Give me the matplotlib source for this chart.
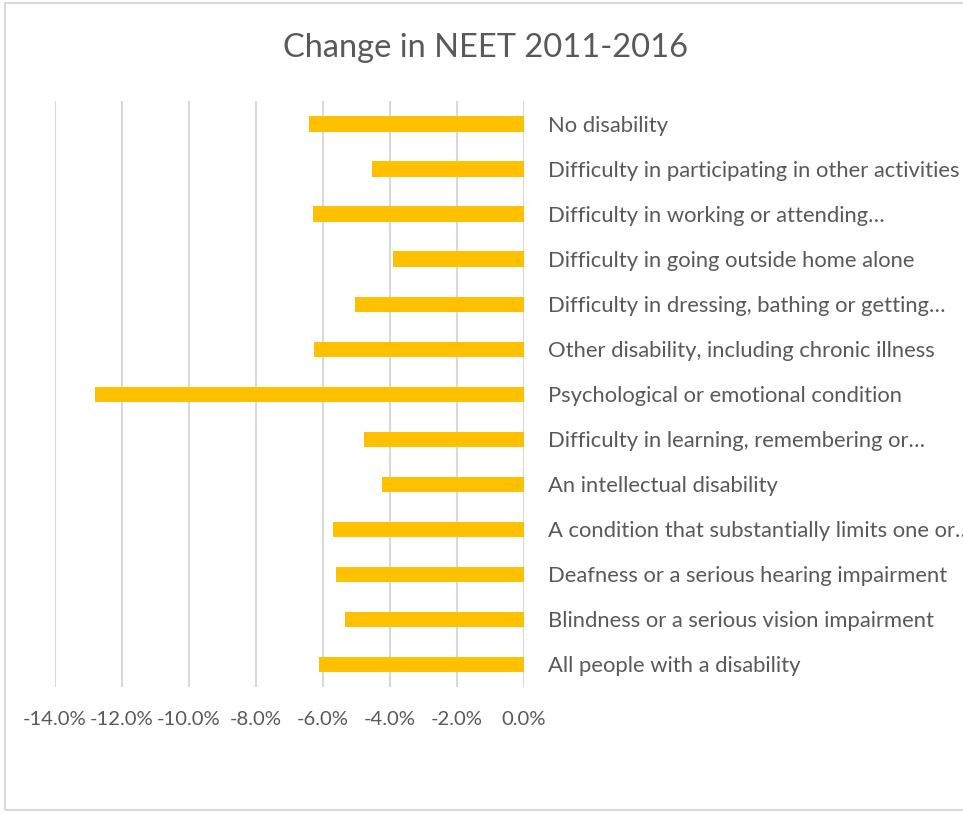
import matplotlib
matplotlib.use("Agg")
import matplotlib.pyplot as plt
from matplotlib.patches import Rectangle
from matplotlib.ticker import FuncFormatter

# Kategorie (od góry do dołu) i zmiana odsetka NEET 2011-2016
kategorie = [
    "No disability",
    "Difficulty in participating in other activities",
    "Difficulty in working or attending…",
    "Difficulty in going outside home alone",
    "Difficulty in dressing, bathing or getting…",
    "Other disability, including chronic illness",
    "Psychological or emotional condition",
    "Difficulty in learning, remembering or…",
    "An intellectual disability",
    "A condition that substantially limits one or…",
    "Deafness or a serious hearing impairment",
    "Blindness or a serious vision impairment",
    "All people with a disability",
]
zmiana = [-6.42, -4.55, -6.31, -3.90, -5.04, -6.27, -12.81,
          -4.78, -4.24, -5.69, -5.62, -5.35, -6.11]
ticki = [-14, -12, -10, -8, -6, -4, -2, 0]

plt.rcParams['font.family'] = ['Lato', 'DejaVu Sans']
szary = '#595959'

fig = plt.figure(figsize=(9.63, 8.13), dpi=100)
fig.patches.append(Rectangle((5 / 963, 3 / 813), 1.2, 1 - 6 / 813,
                             transform=fig.transFigure, fill=False,
                             edgecolor='#d9d9d9', linewidth=1.5))

ax = fig.add_axes([55 / 963, 1 - 687 / 813, 469 / 963, 585.5 / 813])
pozycje = list(range(len(kategorie)))
ax.barh(pozycje, zmiana, height=0.34, color='#ffc000', zorder=3)

ax.set_xlim(-14, 0)
ax.set_ylim(len(kategorie) - 0.5, -0.5)
ax.set_xticks(ticki)
ax.xaxis.set_major_formatter(FuncFormatter(lambda v, p: f"{v:.1f}%"))
ax.grid(axis='x', color='#d9d9d9', linewidth=1.5, zorder=0)
ax.set_yticks(pozycje)
ax.set_yticklabels(kategorie)
ax.yaxis.tick_right()
ax.tick_params(axis='y', length=0, pad=17, labelsize=15.8, labelcolor=szary)
ax.tick_params(axis='x', length=0, pad=17, labelsize=14.6, labelcolor=szary)
for s in ax.spines.values():
    s.set_visible(False)

fig.text(485 / 963, 1 - 48 / 813, "Change in NEET 2011-2016", ha='center',
         va='center', fontsize=23.5, color=szary)

fig.savefig("out.png", dpi=100)
